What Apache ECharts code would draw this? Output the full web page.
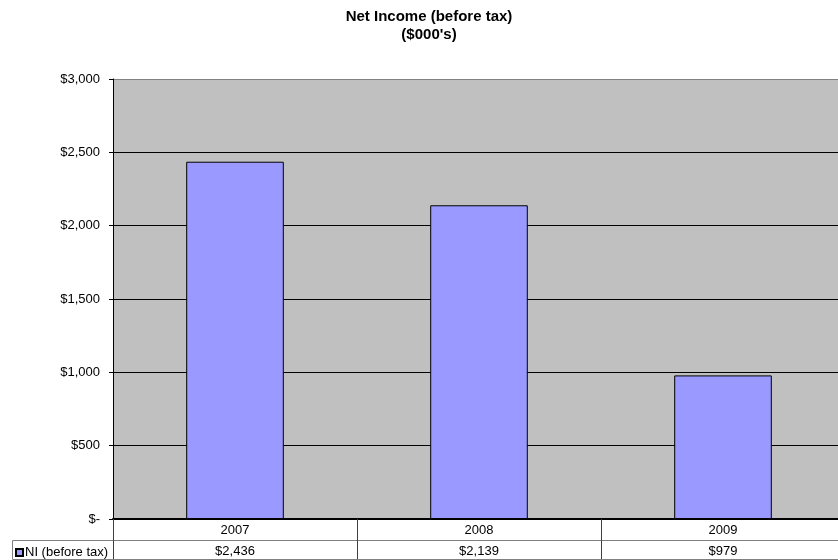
<!DOCTYPE html>
<html>
<head>
<meta charset="utf-8">
<script src="https://cdn.jsdelivr.net/npm/echarts@6/dist/echarts.min.js"></script>
<style>
  html, body { margin: 0; padding: 0; background: #fff; }
  #chart { width: 838px; height: 560px; }
</style>
</head>
<body>
<div id="chart"></div>
<script>
// Net income before tax, in thousands of dollars
const years = ['2007', '2008', '2009'];
const netIncome = [2436, 2139, 979];
const seriesName = 'NI (before tax)';
const yTicks = [0, 500, 1000, 1500, 2000, 2500, 3000];

const FONT = 'Liberation Sans, Arial, sans-serif';

function money(v) {
  if (v === 0) return '$-';
  return '$' + v.toLocaleString('en-US');
}

const chart = echarts.init(document.getElementById('chart'), null, { renderer: 'canvas' });

chart.setOption({
  animation: false,
  backgroundColor: '#ffffff',
  textStyle: { fontFamily: FONT },
  title: {
    text: 'Net Income (before tax)\n($000\'s)',
    left: 424,
    top: 3,
    textAlign: 'center',
    textStyle: { fontFamily: FONT, fontSize: 15, fontWeight: 'bold', color: '#000', lineHeight: 18 }
  },
  legend: {
    data: [seriesName],
    left: 15,
    top: 546,
    itemWidth: 7,
    itemHeight: 7,
    itemGap: 2,
    icon: 'rect',
    padding: 0,
    textStyle: { fontFamily: FONT, fontSize: 13, color: '#000', padding: [0, 0, 0, -3] }
  },
  // the plot runs a little past the right edge of the page
  grid: {
    left: 113, top: 79, width: 732, bottom: 41,
    outerBoundsMode: 'none',
    containLabel: false,
    show: true, backgroundColor: '#c0c0c0', borderWidth: 0
  },
  xAxis: [
    {
      type: 'category',
      data: years,
      position: 'bottom',
      axisLine: { show: true, lineStyle: { color: '#000', width: 2 } },
      axisTick: { show: true, length: 40, lineStyle: { color: '#404040', width: 1 } },
      axisLabel: { color: '#000', fontSize: 13, fontFamily: FONT, margin: 5 }
    },
    {
      type: 'category',
      data: years,
      position: 'bottom',
      offset: 21,
      axisLine: { show: true, lineStyle: { color: '#808080', width: 1 } },
      axisTick: { show: false },
      axisLabel: {
        color: '#000', fontSize: 13, fontFamily: FONT, margin: 5,
        formatter: (v, i) => money(netIncome[i])
      }
    },
    {
      type: 'category',
      data: years,
      position: 'bottom',
      offset: 40,
      axisLine: { show: true, lineStyle: { color: '#808080', width: 1 } },
      axisTick: { show: false },
      axisLabel: { show: false }
    }
  ],
  yAxis: {
    type: 'value',
    min: 0,
    max: 3000,
    interval: 500,
    axisLine: { show: true, lineStyle: { color: '#000', width: 1 } },
    axisTick: { show: true, length: 4, lineStyle: { color: '#000' } },
    axisLabel: {
      color: '#000', fontSize: 13, fontFamily: FONT, margin: 13,
      formatter: v => money(v)
    },
    splitLine: {
      show: true,
      lineStyle: { color: ['#000', '#000', '#000', '#000', '#000', '#000', '#808080'], width: 1 }
    }
  },
  series: [{
    name: seriesName,
    type: 'bar',
    data: netIncome,
    barWidth: '40%',
    itemStyle: { color: '#9999ff', borderColor: '#000', borderWidth: 1 }
  }],
  graphic: [
    {
      type: 'polyline',
      shape: { points: [[113, 540.5], [12.5, 540.5], [12.5, 559.5], [113, 559.5]] },
      style: { stroke: '#808080', lineWidth: 1, fill: null }
    }
  ]
});
</script>
</body>
</html>
